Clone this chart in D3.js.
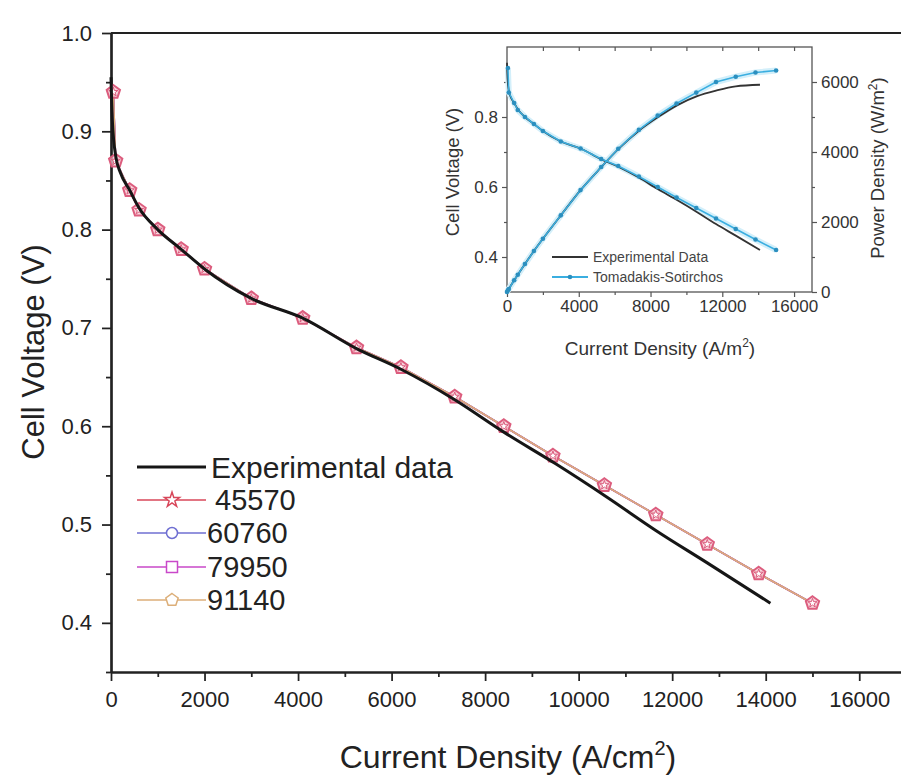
<!DOCTYPE html>
<html><head><meta charset="utf-8">
<script src="https://cdn.jsdelivr.net/npm/d3@7"></script>
<style>
body{margin:0;background:#fff;}
svg{display:block;}
text{font-family:"Liberation Sans",Arial,Helvetica,sans-serif;}
</style>
</head><body>
<svg id="c" width="901" height="775"></svg>
<script>
// ---------- DATA ----------
const seriesNames = ["45570", "60760", "79950", "91140"];
const modelCurrent = [50, 100, 400, 600, 1000, 1500, 2000, 3000, 4100, 5250, 6200, 7350, 8400, 9450, 10550, 11650, 12750, 13850, 15000];
const v45570 = [0.94, 0.87, 0.84, 0.82, 0.80, 0.78, 0.76, 0.73, 0.71, 0.68, 0.66, 0.63, 0.60, 0.57, 0.54, 0.51, 0.48, 0.45, 0.42];
const v60760 = [0.94, 0.87, 0.84, 0.82, 0.80, 0.78, 0.76, 0.73, 0.71, 0.68, 0.66, 0.63, 0.60, 0.57, 0.54, 0.51, 0.48, 0.45, 0.42];
const v79950 = [0.94, 0.87, 0.84, 0.82, 0.80, 0.78, 0.76, 0.73, 0.71, 0.68, 0.66, 0.63, 0.60, 0.57, 0.54, 0.51, 0.48, 0.45, 0.42];
const v91140 = [0.94, 0.87, 0.84, 0.82, 0.80, 0.78, 0.76, 0.73, 0.71, 0.68, 0.66, 0.63, 0.60, 0.57, 0.54, 0.51, 0.48, 0.45, 0.42];

const expCurrent = [0, 30, 100, 200, 400, 600, 1000, 1500, 2000, 3000, 4100, 5250, 6200, 7350, 8400, 9500, 10600, 11650, 12750, 14100];
const expVoltage = [0.955, 0.91, 0.875, 0.858, 0.84, 0.822, 0.80, 0.78, 0.76, 0.73, 0.71, 0.679, 0.658, 0.627, 0.594, 0.562, 0.528, 0.494, 0.461, 0.42];

// inset (A/m^2): voltage and power density
const insetModelVoltage = [0.94, 0.87, 0.84, 0.82, 0.80, 0.78, 0.76, 0.73, 0.71, 0.68, 0.66, 0.63, 0.60, 0.57, 0.54, 0.51, 0.48, 0.45, 0.42];
const insetModelPower = [47, 87, 336, 492, 800, 1170, 1520, 2190, 2911, 3570, 4092, 4631, 5040, 5387, 5697, 6000, 6150, 6270, 6330];
const insetExpPower = [0, 27, 88, 172, 336, 493, 800, 1170, 1520, 2190, 2911, 3565, 4080, 4608, 4990, 5339, 5597, 5755, 5878, 5922];

const xTicksMain = [0, 2000, 4000, 6000, 8000, 10000, 12000, 14000, 16000];
const yTicksMain = [0.4, 0.5, 0.6, 0.7, 0.8, 0.9, 1.0];
const insetXTicks = [0, 4000, 8000, 12000, 16000];
const insetVTicks = [0.4, 0.6, 0.8];
const insetPTicks = [0, 2000, 4000, 6000];

// ---------- SETUP ----------
const svg = d3.select("#c");
const FONT = '"Liberation Sans",Arial,sans-serif';
const seriesColors = ["#d8475a", "#6f6fd2", "#c948c9", "#dcae78"];
const seriesVolt = [v45570, v60760, v79950, v91140];

// main scales
const x = d3.scaleLinear().domain([0, 17000]).range([111, 906]);
const y = d3.scaleLinear().domain([0.35, 1.0]).range([672, 33]);

function pentagonPath(r) {
  const pts = d3.range(5).map(i => {
    const a = -Math.PI / 2 + i * 2 * Math.PI / 5;
    return [r * Math.cos(a), r * Math.sin(a)];
  });
  return "M" + pts.map(p => p.join(",")).join("L") + "Z";
}

// frame lines (top + right)
svg.append("line").attr("x1", x(0)).attr("x2", x(17000)).attr("y1", y(1.0)).attr("y2", y(1.0))
  .attr("stroke", "#222").attr("stroke-width", 2.2);
svg.append("line").attr("x1", x(17000)).attr("x2", x(17000)).attr("y1", y(1.0)).attr("y2", y(0.35))
  .attr("stroke", "#222").attr("stroke-width", 2.2);

// main axes
function styleAxis(g, sw) {
  g.selectAll("path.domain").attr("stroke", "#222").attr("stroke-width", sw);
  g.selectAll(".tick line").attr("stroke", "#222").attr("stroke-width", sw * 0.8);
}
const xMinor = d3.range(1000, 17000, 2000);
const yMinor = [0.35, 0.45, 0.55, 0.65, 0.75, 0.85, 0.95];

const gxMinor = svg.append("g").attr("transform", `translate(0,${y(0.35)})`)
  .call(d3.axisBottom(x).tickValues(xMinor).tickSize(5).tickSizeOuter(0).tickFormat(""));
styleAxis(gxMinor, 2.2);
const gx = svg.append("g").attr("transform", `translate(0,${y(0.35)})`)
  .call(d3.axisBottom(x).tickValues(xTicksMain).tickSize(9).tickSizeOuter(0).tickPadding(10).tickFormat(d3.format("d")));
styleAxis(gx, 2.2);
gx.selectAll("text").attr("font-size", 22).attr("fill", "#222").attr("font-family", FONT);

const gyMinor = svg.append("g").attr("transform", `translate(${x(0)},0)`)
  .call(d3.axisLeft(y).tickValues(yMinor).tickSize(5).tickSizeOuter(0).tickFormat(""));
styleAxis(gyMinor, 2.2);
const gy = svg.append("g").attr("transform", `translate(${x(0)},0)`)
  .call(d3.axisLeft(y).tickValues(yTicksMain).tickSize(9).tickSizeOuter(0).tickPadding(10).tickFormat(d3.format(".1f")));
styleAxis(gy, 2.2);
gy.selectAll("text").attr("font-size", 22).attr("fill", "#222").attr("font-family", FONT);

// axis titles
const xt = svg.append("text").attr("x", 508).attr("y", 768).attr("text-anchor", "middle")
  .attr("font-size", 32).attr("fill", "#222");
xt.append("tspan").text("Current Density (A/cm");
xt.append("tspan").attr("font-size", 20).attr("dy", -13).text("2");
xt.append("tspan").attr("dy", 13).text(")");

svg.append("text").attr("transform", `translate(44,352) rotate(-90)`).attr("text-anchor", "middle")
  .attr("font-size", 31).attr("fill", "#222").text("Cell Voltage (V)");

// model lines
const lineMain = d3.line().x(d => x(d[0])).y(d => y(d[1]));
seriesVolt.forEach((vs, si) => {
  const pts = modelCurrent.map((c, i) => [c, vs[i]]);
  svg.append("path").datum(pts).attr("d", lineMain).attr("fill", "none")
    .attr("stroke", seriesColors[si]).attr("stroke-width", 1.6);
});

// markers (overlapping markers of all series appear pinkish red)
const mk = svg.append("g");
seriesVolt.forEach((vs, si) => {
  modelCurrent.forEach((c, i) => {
    const g = mk.append("g").attr("transform", `translate(${x(c)},${y(vs[i])})`);
    if (si === 3) {
      g.append("path").attr("d", pentagonPath(7)).attr("fill", "#f6c7d1").attr("fill-opacity", 0.75)
        .attr("stroke", "#dc5d7e").attr("stroke-width", 2);
      g.append("path").attr("d", d3.symbol(d3.symbolStar, 26)()).attr("fill", "#fff")
        .attr("stroke", "#dc5d7e").attr("stroke-width", 1);
    }
  });
});

// experimental line
const expPts = expCurrent.map((c, i) => [c, expVoltage[i]]);
svg.append("path").datum(expPts).attr("d", lineMain.curve(d3.curveMonotoneX)).attr("fill", "none")
  .attr("stroke", "#161616").attr("stroke-width", 3);

// legend
const leg = svg.append("g");
const legY = [467, 500, 533, 567, 600];
leg.append("line").attr("x1", 137).attr("x2", 206).attr("y1", legY[0]).attr("y2", legY[0])
  .attr("stroke", "#161616").attr("stroke-width", 3);
leg.append("text").attr("x", 211).attr("y", legY[0]).attr("dy", "0.35em").attr("font-size", 30)
  .attr("fill", "#222").text("Experimental data");
const legMarker = [
  g => g.append("path").attr("d", d3.symbol(d3.symbolStar, 70)()),
  g => g.append("circle").attr("r", 5.5),
  g => g.append("rect").attr("x", -5.5).attr("y", -5.5).attr("width", 11).attr("height", 11),
  g => g.append("path").attr("d", pentagonPath(6.5))
];
seriesNames.forEach((name, si) => {
  const yy = legY[si + 1];
  leg.append("line").attr("x1", 137).attr("x2", 206).attr("y1", yy).attr("y2", yy)
    .attr("stroke", seriesColors[si]).attr("stroke-width", 1.5);
  const g = leg.append("g").attr("transform", `translate(172,${yy})`);
  legMarker[si](g).attr("fill", "#fff").attr("stroke", seriesColors[si]).attr("stroke-width", 1.5);
  leg.append("text").attr("x", si === 0 ? 215 : 207).attr("y", yy).attr("dy", "0.35em").attr("font-size", 29)
    .attr("fill", "#222").text(name);
});

// ---------- INSET ----------
const ix = d3.scaleLinear().domain([0, 17000]).range([507, 812]);
const iv = d3.scaleLinear().domain([0.3, 1.0]).range([292, 47]);
const ip = d3.scaleLinear().domain([0, 7000]).range([292, 47]);
const inset = svg.append("g");
inset.append("rect").attr("x", 507).attr("y", 47).attr("width", 305).attr("height", 245)
  .attr("fill", "#fff").attr("stroke", "#555").attr("stroke-width", 1.3);

function styleInset(g) {
  g.select("path.domain").remove();
  g.selectAll(".tick line").attr("stroke", "#555").attr("stroke-width", 1.2);
  g.selectAll("text").attr("font-size", 17).attr("fill", "#333").attr("font-family", FONT);
}
// bottom
inset.append("g").attr("transform", "translate(0,292)")
  .call(d3.axisBottom(ix).tickValues(d3.range(2000, 17000, 4000)).tickSize(3).tickFormat("")).call(styleInset);
inset.append("g").attr("transform", "translate(0,292)")
  .call(d3.axisBottom(ix).tickValues(insetXTicks).tickSize(5).tickPadding(3).tickFormat(d3.format("d"))).call(styleInset);
// top (inward)
inset.append("g").attr("transform", "translate(0,47)")
  .call(d3.axisBottom(ix).tickValues(d3.range(2000, 17000, 2000)).tickSize(4).tickFormat("")).call(styleInset);
// left
inset.append("g").attr("transform", "translate(507,0)")
  .call(d3.axisLeft(iv).tickValues([0.5, 0.7, 0.9]).tickSize(3).tickFormat("")).call(styleInset);
inset.append("g").attr("transform", "translate(507,0)")
  .call(d3.axisLeft(iv).tickValues(insetVTicks).tickSize(5).tickPadding(4).tickFormat(d3.format(".1f"))).call(styleInset);
// right
inset.append("g").attr("transform", "translate(812,0)")
  .call(d3.axisRight(ip).tickValues([1000, 3000, 5000]).tickSize(3).tickFormat("")).call(styleInset);
inset.append("g").attr("transform", "translate(812,0)")
  .call(d3.axisRight(ip).tickValues(insetPTicks).tickSize(5).tickPadding(4).tickFormat(d3.format("d"))).call(styleInset);

// inset titles
const ixt = inset.append("text").attr("x", 660).attr("y", 355).attr("text-anchor", "middle")
  .attr("font-size", 19).attr("fill", "#333");
ixt.append("tspan").text("Current Density (A/m");
ixt.append("tspan").attr("font-size", 12).attr("dy", -8).text("2");
ixt.append("tspan").attr("dy", 8).text(")");
inset.append("text").attr("transform", "translate(459,172) rotate(-90)").attr("text-anchor", "middle")
  .attr("font-size", 18.5).attr("fill", "#333").text("Cell Voltage (V)");
const iyt = inset.append("text").attr("transform", "translate(884,168) rotate(-90)").attr("text-anchor", "middle")
  .attr("font-size", 18.5).attr("fill", "#333");
iyt.append("tspan").text("Power Density (W/m");
iyt.append("tspan").attr("font-size", 12).attr("dy", -7).text("2");
iyt.append("tspan").attr("dy", 7).text(")");

// inset curves
const lv = d3.line().x(d => ix(d[0])).y(d => iv(d[1]));
const lp = d3.line().x(d => ix(d[0])).y(d => ip(d[1]));
const expV = expCurrent.map((c, i) => [c, expVoltage[i]]);
const expP = expCurrent.map((c, i) => [c, insetExpPower[i]]);
const modV = modelCurrent.map((c, i) => [c, insetModelVoltage[i]]);
const modP = [[0, 0]].concat(modelCurrent.map((c, i) => [c, insetModelPower[i]]));

[modV, modP].forEach(pts => {
  const gen = pts === modV ? lv : lp;
  inset.append("path").datum(pts).attr("d", gen).attr("fill", "none")
    .attr("stroke", "#d3effa").attr("stroke-width", 6).attr("stroke-linejoin", "round");
});
[expV, expP].forEach(pts => {
  const gen = pts === expV ? lv.curve(d3.curveMonotoneX) : lp.curve(d3.curveMonotoneX);
  inset.append("path").datum(pts).attr("d", gen).attr("fill", "none")
    .attr("stroke", "#333").attr("stroke-width", 1.8);
});
[modV, modP].forEach(pts => {
  const gen = pts === modV ? lv.curve(d3.curveLinear) : lp.curve(d3.curveLinear);
  inset.append("path").datum(pts).attr("d", gen).attr("fill", "none")
    .attr("stroke", "#3aaee0").attr("stroke-width", 1.6);
  inset.selectAll(null).data(pts).enter().append("circle")
    .attr("cx", d => ix(d[0])).attr("cy", d => pts === modV ? iv(d[1]) : ip(d[1]))
    .attr("r", 2.3).attr("fill", "#2b8fbf");
});

// inset legend
inset.append("line").attr("x1", 552).attr("x2", 588).attr("y1", 257).attr("y2", 257)
  .attr("stroke", "#333").attr("stroke-width", 1.8);
inset.append("text").attr("x", 593).attr("y", 257).attr("dy", "0.35em").attr("font-size", 14)
  .attr("fill", "#444").text("Experimental Data");
inset.append("line").attr("x1", 552).attr("x2", 588).attr("y1", 277).attr("y2", 277)
  .attr("stroke", "#3aaee0").attr("stroke-width", 1.8);
inset.append("circle").attr("cx", 570).attr("cy", 277).attr("r", 2.3).attr("fill", "#2b8fbf");
inset.append("text").attr("x", 593).attr("y", 277).attr("dy", "0.35em").attr("font-size", 14)
  .attr("fill", "#444").text("Tomadakis-Sotirchos");
</script>
</body></html>
